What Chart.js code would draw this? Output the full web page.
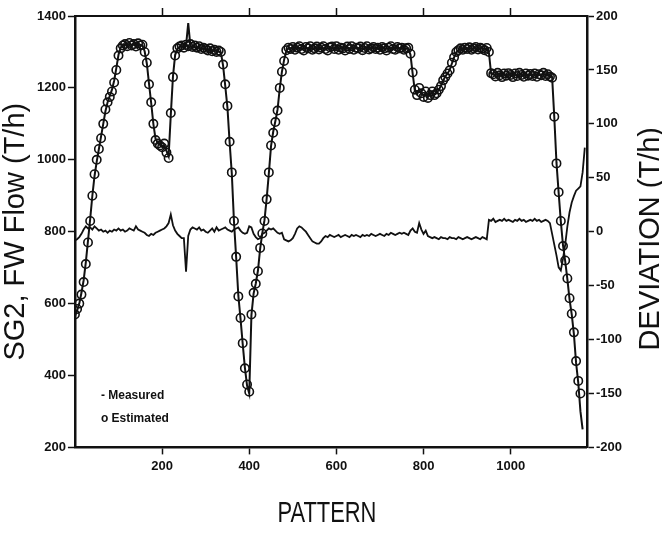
<!DOCTYPE html>
<html>
<head>
<meta charset="utf-8">
<script src="https://cdn.jsdelivr.net/npm/chart.js@4"></script>
<style>
  html, body { margin: 0; padding: 0; background: #fff; }
  #wrap { width: 662px; height: 536px; }
</style>
</head>
<body>
<div id="wrap"><canvas id="flowChart" width="662" height="536"></canvas></div>
<script>
// one sample every 5 patterns, starting at pattern 0
const STEP = 5;

const xTicks = [200, 400, 600, 800, 1000];
const flowTicks = [200, 400, 600, 800, 1000, 1200, 1400];
const devTicks = [-200, -150, -100, -50, 0, 50, 100, 150, 200];

const xTitle = "PATTERN";
const leftTitle = "SG2, FW Flow (T/h)";
const rightTitle = "DEVIATION (T/h)";

// SG2 feedwater flow, measured (T/h)
const measured = [
    565, 580, 600, 630, 665, 715, 775, 835, 900, 955,
    995, 1030, 1065, 1100, 1135, 1160, 1178, 1195, 1220, 1255,
    1292, 1312, 1318, 1320, 1321, 1320, 1320, 1321, 1319, 1320,
    1320, 1318, 1302, 1268, 1212, 1158, 1100, 1058, 1048, 1042,
    1038, 1040, 1025, 1010, 1125, 1232, 1292, 1308, 1314, 1316,
    1316, 1318, 1380, 1316, 1315, 1313, 1313, 1311, 1310, 1309,
    1308, 1306, 1306, 1304, 1303, 1303, 1301, 1298, 1262, 1205,
    1145, 1048, 962, 828, 728, 622, 558, 488, 422, 372,
    350, 568, 628, 656, 692, 752, 796, 832, 892, 962,
    1038, 1078, 1108, 1140, 1198, 1245, 1278, 1303, 1310, 1310,
    1311, 1310, 1310, 1311, 1310, 1309, 1311, 1310, 1311, 1310,
    1309, 1310, 1311, 1310, 1310, 1311, 1309, 1310, 1311, 1310,
    1311, 1310, 1310, 1309, 1310, 1311, 1310, 1311, 1310, 1310,
    1310, 1311, 1309, 1310, 1311, 1310, 1310, 1311, 1310, 1309,
    1310, 1311, 1310, 1309, 1310, 1311, 1310, 1310, 1311, 1310,
    1310, 1310, 1309, 1310, 1292, 1240, 1192, 1182, 1195, 1186,
    1178, 1186, 1175, 1180, 1188, 1182, 1186, 1195, 1206, 1220,
    1232, 1240, 1250, 1268, 1285, 1298, 1305, 1308, 1309, 1308,
    1309, 1310, 1309, 1310, 1310, 1309, 1310, 1310, 1309, 1310,
    1298, 1240, 1237, 1236, 1238, 1236, 1235, 1237, 1236, 1238,
    1236, 1235, 1237, 1236, 1238, 1236, 1235, 1237, 1236, 1237,
    1236, 1237, 1235, 1236, 1236, 1238, 1236, 1236, 1235, 1230,
    1118, 992, 908, 828, 762, 718, 668, 612, 570, 515,
    435, 380, 300, 250,
];

// SG2 feedwater flow, estimated (T/h)
const estimated = [
    570, 585, 600, 625, 660, 710, 770, 830, 900, 960,
    1000, 1030, 1060, 1100, 1140, 1160, 1175, 1190, 1215, 1250,
    1290, 1310, 1318, 1322, 1316, 1325, 1318, 1322, 1315, 1324,
    1318, 1320, 1300, 1270, 1210, 1160, 1100, 1055, 1045, 1040,
    1035, 1045, 1020, 1005, 1130, 1230, 1290, 1310, 1315, 1318,
    1312, 1320, 1316, 1322, 1314, 1318, 1312, 1316, 1308, 1312,
    1308, 1304, 1310, 1302, 1306, 1300, 1304, 1300, 1265, 1210,
    1150, 1050, 965, 830, 730, 620, 560, 490, 420, 375,
    355, 570, 630, 655, 690, 755, 795, 830, 890, 965,
    1040, 1075, 1105, 1137, 1200, 1245, 1275, 1305, 1312, 1308,
    1314, 1306, 1312, 1316, 1308, 1304, 1314, 1310, 1316, 1306,
    1310, 1315, 1307, 1312, 1316, 1308, 1304, 1313, 1315, 1308,
    1316, 1306, 1312, 1310, 1304, 1315, 1308, 1316, 1306, 1312,
    1310, 1315, 1305, 1311, 1316, 1307, 1310, 1314, 1308, 1312,
    1306, 1314, 1310, 1304, 1312, 1316, 1308, 1306, 1314, 1310,
    1312, 1306, 1310, 1312, 1295, 1243, 1195, 1180, 1200, 1185,
    1175, 1190, 1172, 1180, 1190, 1180, 1185, 1195, 1205, 1221,
    1230, 1240, 1249, 1270, 1285, 1300, 1305, 1310, 1306, 1312,
    1308, 1313, 1306, 1310, 1314, 1307, 1312, 1309, 1305, 1311,
    1300, 1241, 1238, 1232, 1242, 1235, 1230, 1240, 1234, 1241,
    1236, 1230, 1240, 1233, 1242, 1236, 1231, 1240, 1234, 1239,
    1233, 1240, 1231, 1238, 1235, 1242, 1233, 1238, 1232, 1228,
    1120, 990, 910, 830, 760, 720, 670, 615, 572, 520,
    440, 385, 350,
];

// deviation between the two (T/h), right axis
const deviation = [
    -8, -7, -5, -2, 2, 5, 3, 4, 2, 5,
    3, 1, 2, 0, 1, -1, 1, 0, 2, 1,
    3, 1, 2, 0, 1, 3, 2, 1, 5, 2,
    1, 0, -1, -3, -4, -2, -3, -1, 0, 1,
    2, 3, 5, 8, 16, 6, 1, -2, -4, -6,
    -6, -37, -4, 2, 4, 3, 2, 4, 1, 2,
    0, -1, 1, 3, 0, 4, 1, 2, 3, 4,
    2, 1, 0, 2, 3, 4, 1, -1, -2, -1,
    5, 4, -2, -5, -7, -6, -2, -1, 1, 3,
    2, 3, 1, -1, -2, -1, -7, -8, -9, -8,
    -6, -2, 3, 5, 4, 2, 0, -3, -6, -9,
    -10, -11, -11, -9, -6, -4, -5, -3, -4, -5,
    -4, -3, -5, -4, -3, -4, -5, -3, -4, -3,
    -4, -5, -3, -4, -3, -4, -2, -3, -4, -3,
    -2, -3, -4, -2, -3, -1, -2, -3, -2, -1,
    -2, -1, -2, -3, 1, 3, 0, -1, 8, 2,
    -2, 1, -4, -5, -6, -5, -6, -7, -5, -6,
    -6, -7, -5, -6, -6, -7, -5, -6, -7, -6,
    -5, -6, -7, -6, -5, -6, -7, -5, -6, -7,
    11, 10, 12, 9, 10, 11, 10, 12, 10, 11,
    10, 9, 11, 10, 12, 10, 11, 9, 10, 11,
    10, 12, 10, 11, 9, 10, 11, 10, 8, -2,
    -12, -22, -33, -36, -25, -12, 5, 18, 27, 33,
    38, 40, 42, 55, 78,
];

const legendMarks = ["-", "o"];

const toPoints = (arr) => arr.map((v, i) => ({ x: i * STEP, y: v }));

const INK = "#111";
const tickFont = { family: '"Liberation Sans", Arial, sans-serif', size: 13, weight: "bold" };

// right title (reads bottom to top, as in the paper), the condensed x title
// and the small legend inside the plot
const overlayText = {
    id: "overlayText",
    afterDraw(chart) {
        const { ctx, chartArea } = chart;
        ctx.save();
        ctx.fillStyle = INK;
        ctx.font = '29px "Liberation Sans", Arial, sans-serif';
        ctx.textAlign = "center";
        ctx.textBaseline = "middle";
        ctx.translate(chart.width - 11, (chartArea.top + chartArea.bottom) / 2 + 7);
        ctx.rotate(-Math.PI / 2);
        ctx.fillText(rightTitle, 0, 0);
        ctx.restore();

        ctx.save();
        ctx.fillStyle = INK;
        ctx.font = '30px "Liberation Sans", Arial, sans-serif';
        ctx.textAlign = "center";
        ctx.textBaseline = "middle";
        ctx.translate((chartArea.left + chartArea.right) / 2 - 4, chartArea.bottom + 66);
        ctx.scale(0.73, 1);
        ctx.fillText(xTitle, 0, 0);
        ctx.restore();

        ctx.save();
        ctx.fillStyle = INK;
        ctx.font = 'bold 12px "Liberation Sans Narrow", "Liberation Sans", Arial, sans-serif';
        ctx.textAlign = "left";
        ctx.textBaseline = "middle";
        chart.data.datasets.slice(0, 2).forEach((ds, i) => {
            ctx.fillText(legendMarks[i] + " " + ds.label, chartArea.left + 26, chartArea.bottom - 52 + i * 23);
        });
        ctx.restore();
    },
};

new Chart(document.getElementById("flowChart"), {
    type: "line",
    data: {
        datasets: [
            {
                label: "Measured",
                data: toPoints(measured),
                borderColor: INK,
                borderWidth: 2,
                pointRadius: 0,
                tension: 0,
                yAxisID: "y",
            },
            {
                label: "Estimated",
                data: toPoints(estimated),
                showLine: false,
                pointStyle: "circle",
                pointRadius: 4.2,
                pointBorderWidth: 1.6,
                pointBorderColor: INK,
                pointBackgroundColor: "rgba(255,255,255,0)",
                yAxisID: "y",
            },
            {
                label: "Deviation",
                data: toPoints(deviation),
                borderColor: INK,
                borderWidth: 1.8,
                pointRadius: 0,
                tension: 0,
                yAxisID: "y2",
            },
        ],
    },
    options: {
        responsive: false,
        animation: false,
        layout: { padding: { top: 8, left: 0, right: 38, bottom: 58 } },
        plugins: {
            legend: { display: false },
            tooltip: { enabled: false },
        },
        scales: {
            x: {
                type: "linear",
                position: "bottom",
                min: 0,
                max: 1175,
                afterBuildTicks: (axis) => { axis.ticks = xTicks.map((v) => ({ value: v })); },
                ticks: { color: INK, font: tickFont, padding: 4, callback: (v) => String(v) },
                grid: { drawOnChartArea: false, tickLength: 7, tickWidth: 1.5, tickColor: INK },
                border: { color: INK, width: 2.5 },
            },
            xTop: {
                type: "linear",
                position: "top",
                min: 0,
                max: 1175,
                afterBuildTicks: (axis) => { axis.ticks = xTicks.map((v) => ({ value: v })); },
                ticks: { display: false },
                grid: { drawOnChartArea: false, tickLength: 8, tickWidth: 1.5, tickColor: INK },
                border: { color: INK, width: 2 },
            },
            y: {
                position: "left",
                min: 200,
                max: 1400,
                afterBuildTicks: (axis) => { axis.ticks = flowTicks.map((v) => ({ value: v })); },
                ticks: { color: INK, font: tickFont, padding: 2, callback: (v) => String(v) },
                grid: { drawOnChartArea: false, tickLength: 7, tickWidth: 1.5, tickColor: INK },
                border: { color: INK, width: 2.5 },
                title: {
                    display: true,
                    text: leftTitle,
                    color: INK,
                    font: { family: '"Liberation Sans", Arial, sans-serif', size: 29, lineHeight: 1 },
                    padding: { top: 1.5, bottom: 4.5 },
                },
            },
            y2: {
                position: "right",
                min: -200,
                max: 200,
                afterBuildTicks: (axis) => { axis.ticks = devTicks.map((v) => ({ value: v })); },
                ticks: { color: INK, font: tickFont, padding: 2, callback: (v) => String(v) },
                grid: { drawOnChartArea: false, tickLength: 7, tickWidth: 1.5, tickColor: INK },
                border: { color: INK, width: 2.5 },
            },
        },
    },
    plugins: [overlayText],
});
</script>
</body>
</html>
